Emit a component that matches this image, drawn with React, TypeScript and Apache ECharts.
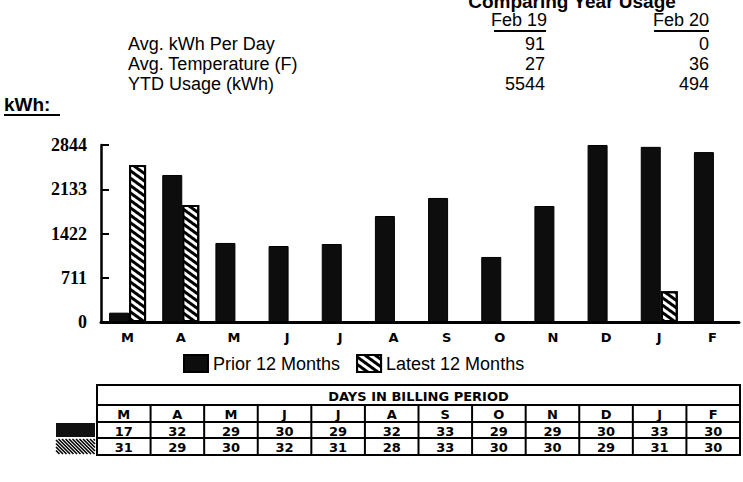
import React, { useEffect, useRef } from "react";
import * as echarts from "echarts";

const months = ["M", "A", "M", "J", "J", "A", "S", "O", "N", "D", "J", "F"];
const priorKwh = [150, 2362, 1270, 1221, 1253, 1703, 1993, 1045, 1864, 2844, 2814, 2730];
const latestKwh: (number | null)[] = [2523, 1880, null, null, null, null, null, null, null, null, 494, 0];
const yMax = 2844;
const yStep = 711;
const priorDays = [17, 32, 29, 30, 29, 32, 33, 29, 29, 30, 33, 30];
const latestDays = [31, 29, 30, 32, 31, 28, 33, 30, 30, 29, 31, 30];
const summaryLabels = ["Avg. kWh Per Day", "Avg. Temperature (F)", "YTD Usage (kWh)"];
const periodLabels = ["Feb 19", "Feb 20"];
const summaryFeb19 = [91, 27, 5544];
const summaryFeb20 = [0, 36, 494];
const seriesNames = ["Prior 12 Months", "Latest 12 Months"];
const titleText = "Comparing Year Usage";
const tableTitle = "DAYS IN BILLING PERIOD";

const SANS = "Liberation Sans";
const BOLD = "DejaVu Sans";

function hatchLines(x0: number, y0: number, x1: number, y1: number, step: number) {
  const h = y1 - y0;
  const out: any[] = [];
  for (let s = x0 - h; s < x1; s += step) {
    let ax = s, ay = y0, bx = s + h, by = y1;
    if (ax < x0) { ay = y0 + (x0 - ax); ax = x0; }
    if (bx > x1) { by = y1 - (bx - x1); bx = x1; }
    if (by <= ay) continue;
    out.push({
      type: "line",
      shape: { x1: ax, y1: ay, x2: bx, y2: by },
      style: { stroke: "#000", lineWidth: 1.6 },
    });
  }
  return out;
}

export default function App() {
  const ref = useRef<HTMLDivElement>(null);
  useEffect(() => {
    if (!ref.current) return;
    const chart = echarts.init(ref.current, undefined, { renderer: "svg" });

    const graphics: any[] = [];
    // Title (cut off at top, as in the scan)
    graphics.push({
      type: "text",
      style: { x: 572, y: 1, text: titleText, font: `bold 19px "${SANS}"`, fill: "#000", textAlign: "center", textVerticalAlign: "middle" },
    });
    const colX = [519, 681];
    const colRight = [545, 709];
    const underline = [[494, 546], [654, 709]];
    periodLabels.forEach((p, i) => {
      graphics.push({
        type: "text",
        style: { x: colX[i], y: 20, text: p, font: `18px "${SANS}"`, fill: "#000", textAlign: "center", textVerticalAlign: "middle" },
      });
      graphics.push({
        type: "line",
        shape: { x1: underline[i][0], y1: 31, x2: underline[i][1], y2: 31 },
        style: { stroke: "#000", lineWidth: 2 },
      });
    });
    summaryLabels.forEach((l, r) => {
      const y = 44 + r * 20;
      graphics.push({ type: "text", style: { x: 128, y, text: l, font: `18px "${SANS}"`, fill: "#000", textVerticalAlign: "middle" } });
      graphics.push({ type: "text", style: { x: colRight[0], y, text: String(summaryFeb19[r]), font: `18px "${SANS}"`, fill: "#000", textAlign: "right", textVerticalAlign: "middle" } });
      graphics.push({ type: "text", style: { x: colRight[1], y, text: String(summaryFeb20[r]), font: `18px "${SANS}"`, fill: "#000", textAlign: "right", textVerticalAlign: "middle" } });
    });
    graphics.push({ type: "text", style: { x: 4, y: 104, text: "kWh:", font: `bold 19px "${SANS}"`, fill: "#000", textVerticalAlign: "middle" } });
    graphics.push({ type: "line", shape: { x1: 4, y1: 115, x2: 60, y2: 115 }, style: { stroke: "#000", lineWidth: 2 } });

    // Table
    const tL = 97, tR = 740;
    const cw = (tR - tL) / months.length;
    const rows = [385, 405, 422, 438, 455];
    graphics.push({ type: "rect", shape: { x: tL, y: rows[0], width: tR - tL, height: rows[4] - rows[0] }, style: { fill: "none", stroke: "#000", lineWidth: 2 } });
    for (let r = 1; r < 4; r++) {
      graphics.push({ type: "line", shape: { x1: tL, y1: rows[r], x2: tR, y2: rows[r] }, style: { stroke: "#000", lineWidth: 2 } });
    }
    for (let c = 1; c < months.length; c++) {
      const x = tL + c * cw;
      graphics.push({ type: "line", shape: { x1: x, y1: rows[1], x2: x, y2: rows[4] }, style: { stroke: "#000", lineWidth: 2 } });
    }
    graphics.push({
      type: "text",
      style: { x: (tL + tR) / 2, y: (rows[0] + rows[1]) / 2 + 1, text: tableTitle, font: `bold 13px "${BOLD}"`, fill: "#000", textAlign: "center", textVerticalAlign: "middle" },
    });
    months.forEach((m, c) => {
      const cx = tL + (c + 0.5) * cw;
      graphics.push({ type: "text", style: { x: cx, y: (rows[1] + rows[2]) / 2 + 1, text: m, font: `bold 13px "${BOLD}"`, fill: "#000", textAlign: "center", textVerticalAlign: "middle" } });
      graphics.push({ type: "text", style: { x: cx, y: (rows[2] + rows[3]) / 2 + 1, text: String(priorDays[c]), font: `bold 13px "${BOLD}"`, fill: "#000", textAlign: "center", textVerticalAlign: "middle" } });
      graphics.push({ type: "text", style: { x: cx, y: (rows[3] + rows[4]) / 2 + 1, text: String(latestDays[c]), font: `bold 13px "${BOLD}"`, fill: "#000", textAlign: "center", textVerticalAlign: "middle" } });
    });
    // Row key icons
    graphics.push({ type: "rect", shape: { x: 56, y: rows[2] + 1, width: 39, height: rows[3] - rows[2] - 2 }, style: { fill: "#111" } });
    graphics.push(...hatchLines(56, rows[3] + 1, 95, rows[4] - 1, 3.5));

    chart.setOption({
      animation: false,
      backgroundColor: "#fff",
      grid: { left: 101, right: 4, top: 145, bottom: 160, containLabel: false },
      legend: {
        data: seriesNames,
        left: 178,
        top: 349,
        icon: "rect",
        itemWidth: 24,
        itemHeight: 17,
        itemGap: 16,
        textStyle: { fontSize: 18, fontFamily: SANS, color: "#000" },
      },
      xAxis: {
        type: "category",
        data: months,
        axisLine: { lineStyle: { color: "#000", width: 3 } },
        axisTick: { show: false },
        axisLabel: { color: "#000", fontFamily: BOLD, fontWeight: "bold", fontSize: 13, margin: 9 },
      },
      yAxis: {
        type: "value",
        min: 0,
        max: yMax,
        interval: yStep,
        axisLine: { show: true, lineStyle: { color: "#000", width: 2.5 } },
        axisTick: { show: true, inside: true, length: 8, lineStyle: { color: "#000", width: 2 } },
        splitLine: { show: false },
        axisLabel: {
          color: "#000",
          fontFamily: "Liberation Serif",
          fontWeight: "bold",
          fontSize: 18,
          margin: 14,
          formatter: (v: number) => String(v),
        },
      },
      series: [
        {
          name: seriesNames[0],
          type: "bar",
          data: priorKwh,
          barWidth: 20,
          barGap: "0%",
          itemStyle: { color: "#0d0d0d", borderColor: "#000", borderWidth: 1 },
        },
        {
          name: seriesNames[1],
          type: "bar",
          data: latestKwh,
          barWidth: 17,
          itemStyle: {
            color: "#fff",
            borderColor: "#000",
            borderWidth: 2,
            decal: {
              symbol: "rect",
              symbolSize: 1,
              color: "#000",
              dashArrayX: [1, 0],
              dashArrayY: [3, 3],
              rotation: Math.PI / 5,
            },
          },
        },
      ],
      graphic: graphics,
    });
    return () => chart.dispose();
  }, []);
  return <div ref={ref} style={{ position: "fixed", left: 0, top: 0, width: 743, height: 482 }} />;
}
